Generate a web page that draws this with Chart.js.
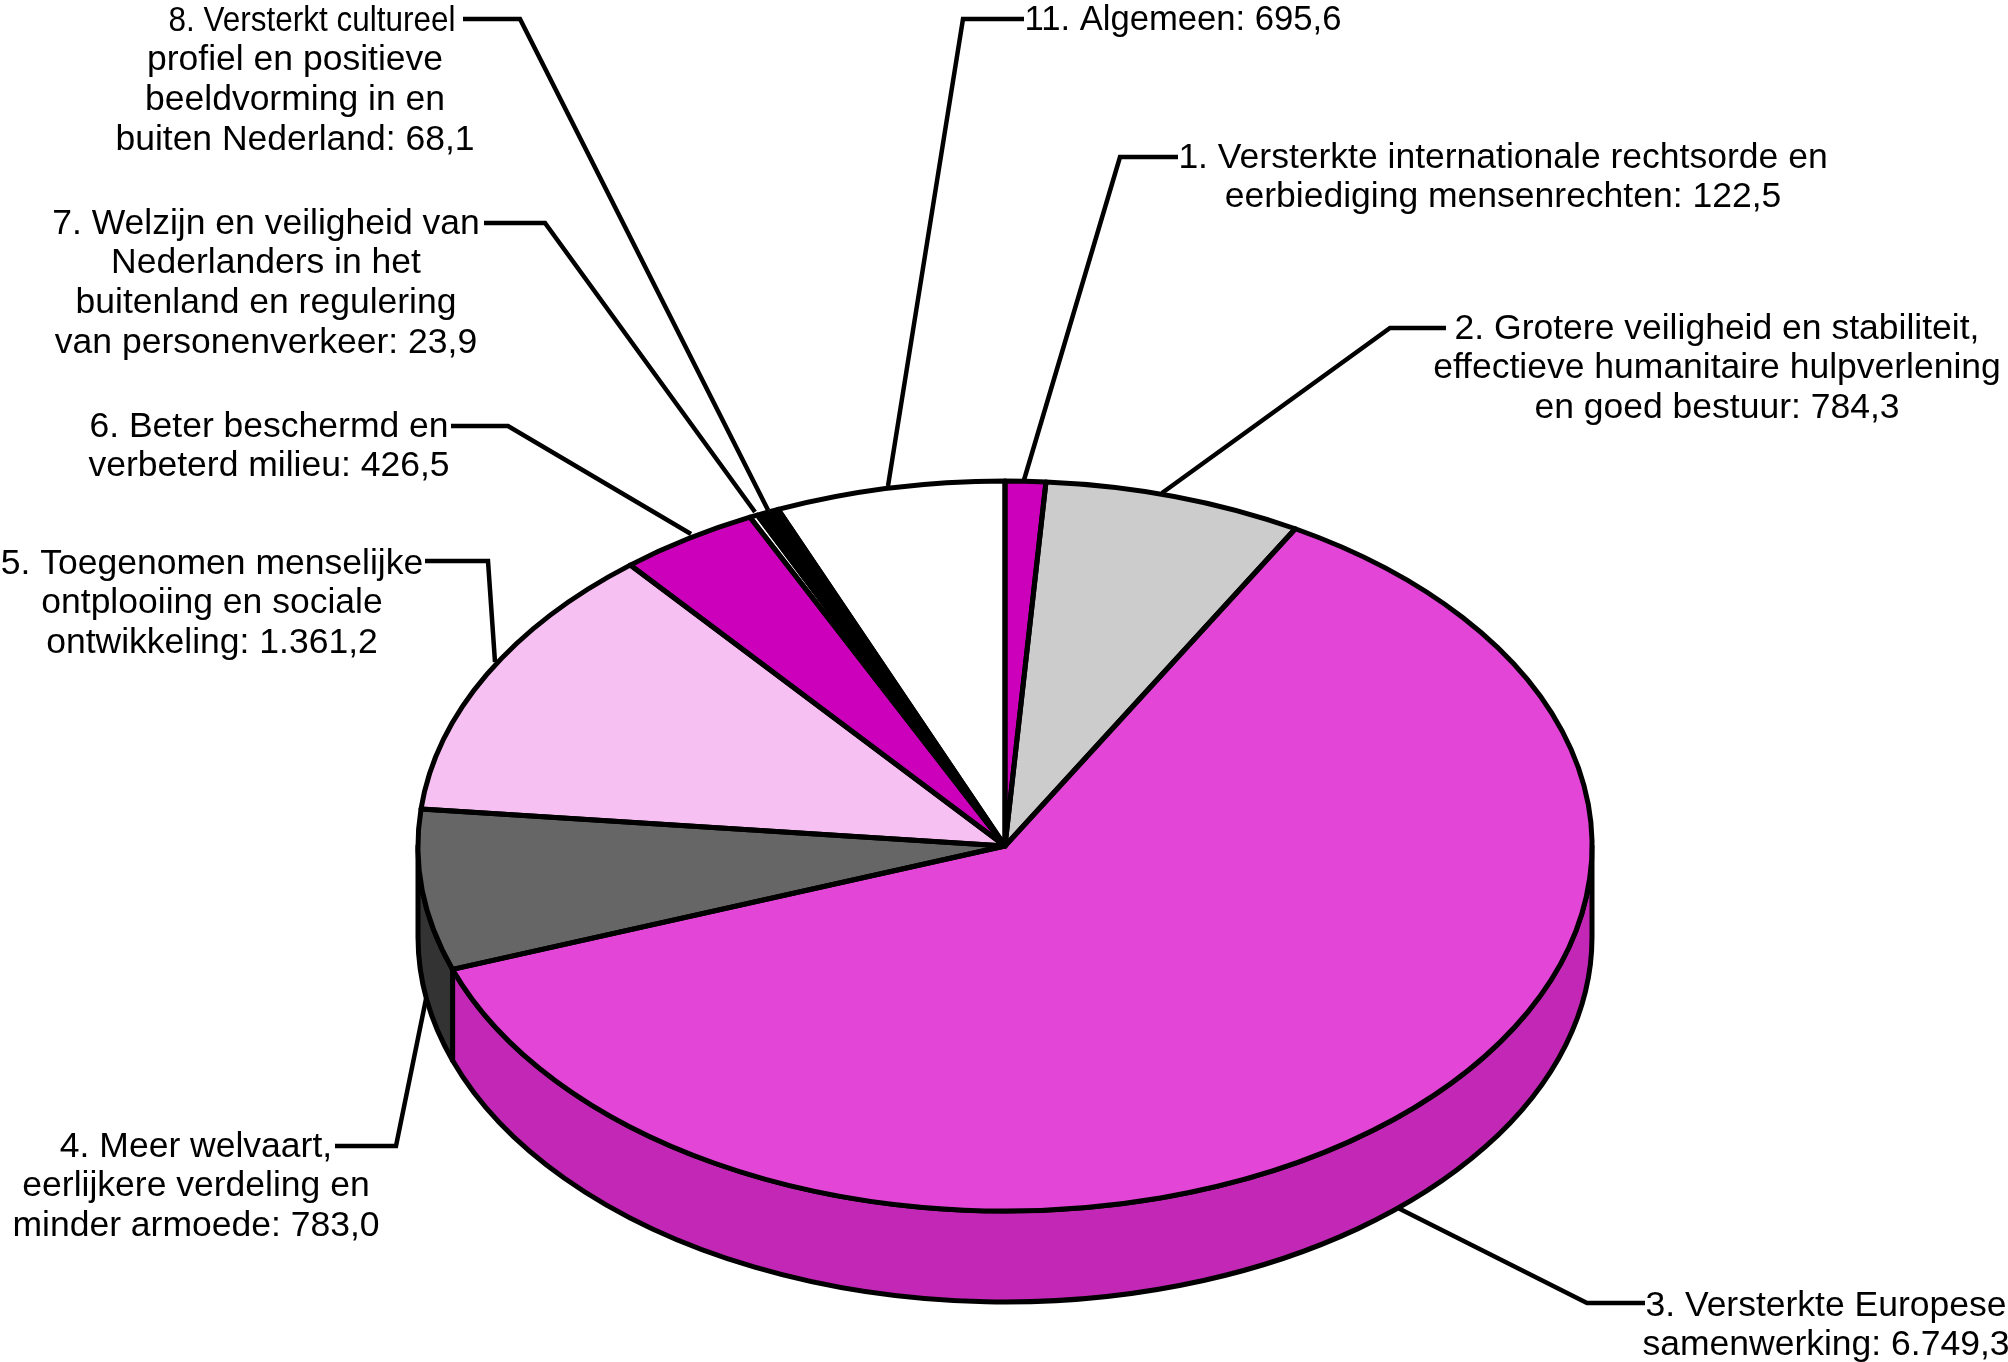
<!DOCTYPE html>
<html>
<head>
<meta charset="utf-8">
<title>Uitgaven per beleidsdoelstelling</title>
<script src="https://cdn.jsdelivr.net/npm/chart.js@4/dist/chart.umd.min.js"></script>
<style>
  html, body { margin: 0; padding: 0; background: #fff; }
  canvas { display: block; }
</style>
</head>
<body>
<canvas id="pie" width="2008" height="1362"></canvas>
<script>
// values, clockwise from the top of the pie
const categories = ["1", "2", "3", "4", "5", "6", "7", "8", "11"];
const values = [122.5, 784.3, 6749.3, 783.0, 1361.2, 426.5, 23.9, 68.1, 695.6];
const labelLines = [
  ["1. Versterkte internationale rechtsorde en", "eerbiediging mensenrechten:"],
  ["2. Grotere veiligheid en stabiliteit,", "effectieve humanitaire hulpverlening", "en goed bestuur:"],
  ["3. Versterkte Europese", "samenwerking:"],
  ["4. Meer welvaart,", "eerlijkere verdeling en", "minder armoede:"],
  ["5. Toegenomen menselijke", "ontplooiing en sociale", "ontwikkeling:"],
  ["6. Beter beschermd en", "verbeterd milieu:"],
  ["7. Welzijn en veiligheid van", "Nederlanders in het", "buitenland en regulering", "van personenverkeer:"],
  ["8. Versterkt cultureel", "profiel en positieve", "beeldvorming in en", "buiten Nederland:"],
  ["11. Algemeen:"]
];

// styles
const topColors = ["#CC00BB", "#CCCCCC", "#E345D7", "#666666", "#F7C0F2", "#CC00BB", "#FFFFFF", "#000000", "#FFFFFF"];
const sideColors = ["#990090", "#999999", "#C228B5", "#333333", "#C090BB", "#990090", "#CCCCCC", "#000000", "#CCCCCC"];

// pie geometry on the page
const centerY = 846;
const squash = 365 / 587;
const depth = 91;

// label layout: centre x of the text block, y of first line, leader polyline
const labelPos = [
  { x: 1503, y: 158, leader: [[1178, 157], [1120, 157], [1024, 480]] },
  { x: 1717, y: 329, leader: [[1446, 328], [1390, 328], [1162, 493]] },
  { x: 1826, y: 1306, leader: [[1645, 1303], [1587, 1303], [1398, 1208]] },
  { x: 196, y: 1147, leader: [[335, 1146], [396, 1146], [426, 999]] },
  { x: 212, y: 564, leader: [[425, 561], [488, 561], [495, 662]] },
  { x: 269, y: 427, leader: [[451, 426], [508, 426], [691, 534]] },
  { x: 266, y: 224, leader: [[484, 223], [545, 223], [755, 512]] },
  { x: 295, y: 21, leader: [[463, 19], [520, 19], [768, 510]] },
  { x: 1183, y: 20, leader: [[1024, 19], [963, 19], [888, 486]] }
];
// first line of label 8 sits right of the others and is tighter
const firstLineShift = { 7: 17 };
const firstLineMaxWidth = { 7: 287, 8: 317 };
const lineGap = 39.7;

function fmt(v) {
  const parts = v.toFixed(1).split(".");
  return parts[0].replace(/\B(?=(\d{3})+$)/g, ".") + "," + parts[1];
}

const pie3d = {
  id: "pie3d",
  beforeDatasetsDraw(chart) {
    const ctx = chart.ctx;
    const arcs = chart.getDatasetMeta(0).data;
    const cx = arcs[0].x;
    const rx = arcs[0].outerRadius;
    const ry = rx * squash;

    // side wall, only the front half can be seen
    ctx.save();
    ctx.lineWidth = 5;
    ctx.strokeStyle = "#000";
    ctx.lineJoin = "round";
    arcs.forEach((arc, i) => {
      const a = Math.max(arc.startAngle, 0);
      const b = Math.min(arc.endAngle, Math.PI);
      if (b <= a) return;
      ctx.beginPath();
      ctx.ellipse(cx, centerY, rx, ry, 0, a, b);
      ctx.ellipse(cx, centerY + depth, rx, ry, 0, b, a, true);
      ctx.closePath();
      ctx.fillStyle = sideColors[i];
      ctx.fill();
      ctx.stroke();
    });
    ctx.restore();

    // squash the library's own arcs into the tilted disc
    ctx.save();
    ctx.translate(0, centerY);
    ctx.scale(1, squash);
    ctx.translate(0, -arcs[0].y);
  },
  afterDatasetsDraw(chart) {
    const ctx = chart.ctx;
    ctx.restore();

    const arcs = chart.getDatasetMeta(0).data;
    const cx = arcs[0].x;
    const rx = arcs[0].outerRadius;
    const ry = rx * squash;

    ctx.save();
    ctx.lineWidth = 5;
    ctx.strokeStyle = "#000";
    ctx.lineJoin = "round";
    arcs.forEach(arc => {
      ctx.beginPath();
      ctx.moveTo(cx, centerY);
      ctx.ellipse(cx, centerY, rx, ry, 0, arc.startAngle, arc.endAngle);
      ctx.closePath();
      ctx.stroke();
    });

    // leader lines
    ctx.lineJoin = "miter";
    ctx.lineWidth = 4.5;
    labelPos.forEach(p => {
      ctx.beginPath();
      p.leader.forEach((pt, i) => (i ? ctx.lineTo(pt[0], pt[1]) : ctx.moveTo(pt[0], pt[1])));
      ctx.stroke();
    });

    // label text
    ctx.fillStyle = "#000";
    ctx.font = '35.5px "Liberation Sans"';
    ctx.textAlign = "center";
    ctx.textBaseline = "middle";
    labelLines.forEach((lines, i) => {
      const p = labelPos[i];
      lines.forEach((line, j) => {
        const isLast = j === lines.length - 1;
        const text = isLast ? line + " " + fmt(values[i]) : line;
        const shift = j === 0 && firstLineShift[i] ? firstLineShift[i] : 0;
        const maxW = j === 0 ? firstLineMaxWidth[i] : undefined;
        if (maxW) ctx.fillText(text, p.x + shift, p.y + j * lineGap, maxW);
        else ctx.fillText(text, p.x + shift, p.y + j * lineGap);
      });
    });
    ctx.restore();
  }
};

new Chart(document.getElementById("pie"), {
  type: "pie",
  data: {
    labels: categories,
    datasets: [{
      data: values,
      backgroundColor: topColors,
      borderWidth: 0,
      clip: false
    }]
  },
  options: {
    responsive: false,
    devicePixelRatio: 1,
    animation: false,
    layout: { padding: { left: 418, right: 416, top: 0, bottom: 0 } },
    plugins: {
      legend: { display: false },
      tooltip: { enabled: false }
    }
  },
  plugins: [pie3d]
});
</script>
</body>
</html>
